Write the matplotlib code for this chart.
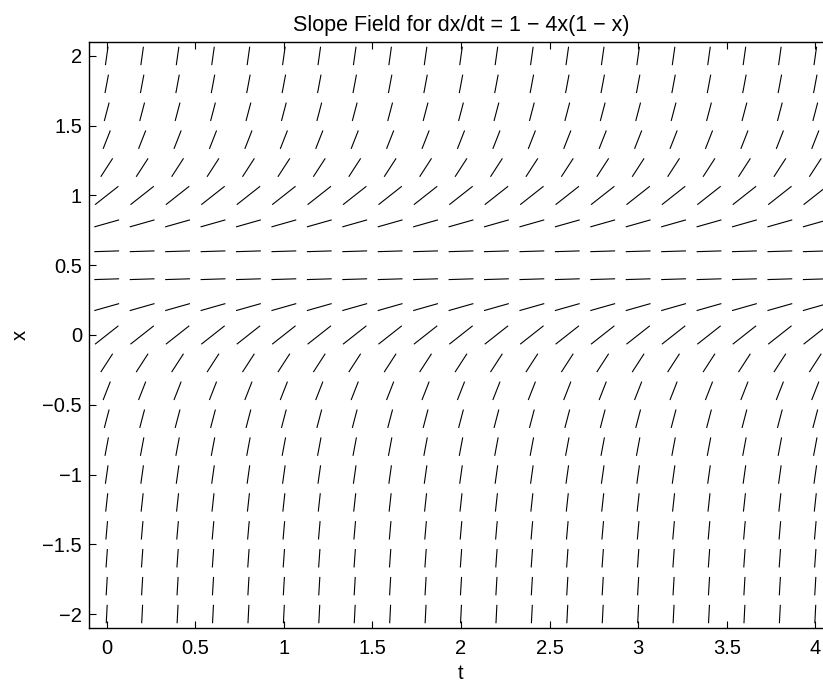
import numpy as np
import matplotlib
matplotlib.use("Agg")
import matplotlib.pyplot as plt
from matplotlib.collections import LineCollection

plt.rcParams['font.family'] = ['Liberation Sans', 'DejaVu Sans']

# grid of the slope field
t_vals = [0.0, 0.2, 0.4, 0.6, 0.8, 1.0, 1.2, 1.4, 1.6, 1.8, 2.0,
          2.2, 2.4, 2.6, 2.8, 3.0, 3.2, 3.4, 3.6, 3.8, 4.0]
x_vals = [-2.0, -1.8, -1.6, -1.4, -1.2, -1.0, -0.8, -0.6, -0.4, -0.2, 0.0,
          0.2, 0.4, 0.6, 0.8, 1.0, 1.2, 1.4, 1.6, 1.8, 2.0]

t_ticks = [0, 0.5, 1, 1.5, 2, 2.5, 3, 3.5, 4]
t_ticklabels = ["0", "0.5", "1", "1.5", "2", "2.5", "3", "3.5", "4"]
x_ticks = [-2, -1.5, -1, -0.5, 0, 0.5, 1, 1.5, 2]
x_ticklabels = ["\u22122", "\u22121.5", "\u22121", "\u22120.5", "0", "0.5", "1", "1.5", "2"]


def rhs(t, x):
    return 1 - 4 * x * (1 - x)


# half size of the box each segment fits in (data units)
half_t = 0.07
half_x = 0.066

segs = []
for t in t_vals:
    for x in x_vals:
        s = rhs(t, x)
        k = min(half_t, half_x / abs(s)) if s != 0 else half_t
        segs.append([(t - k, x - k * s), (t + k, x + k * s)])

fig = plt.figure(figsize=(8.23, 6.83), dpi=100)
ax = fig.add_axes([89 / 823, 55 / 683, 744 / 823, 586 / 683])

lc = LineCollection(segs, colors="black", linewidths=0.8)
ax.add_collection(lc)

ax.set_xlim(-0.1, 4.1)
ax.set_ylim(-2.1, 2.1)
ax.set_xticks(t_ticks)
ax.set_xticklabels(t_ticklabels)
ax.set_yticks(x_ticks)
ax.set_yticklabels(x_ticklabels)
ax.tick_params(direction="in", top=True, right=True, length=5, width=0.8,
               labelsize=14.5)
ax.tick_params(axis="x", pad=8)
ax.tick_params(axis="y", pad=5)
for sp in ax.spines.values():
    sp.set_linewidth(1.0)

ax.set_title("Slope Field for dx/dt = 1 \u2212 4x(1 \u2212 x)", fontsize=15.5, pad=8)
ax.set_xlabel("t", fontsize=14.5, labelpad=4)
ax.set_ylabel("x", fontsize=14.5, labelpad=9)

fig.savefig("out.png", dpi=100)
plt.close(fig)
